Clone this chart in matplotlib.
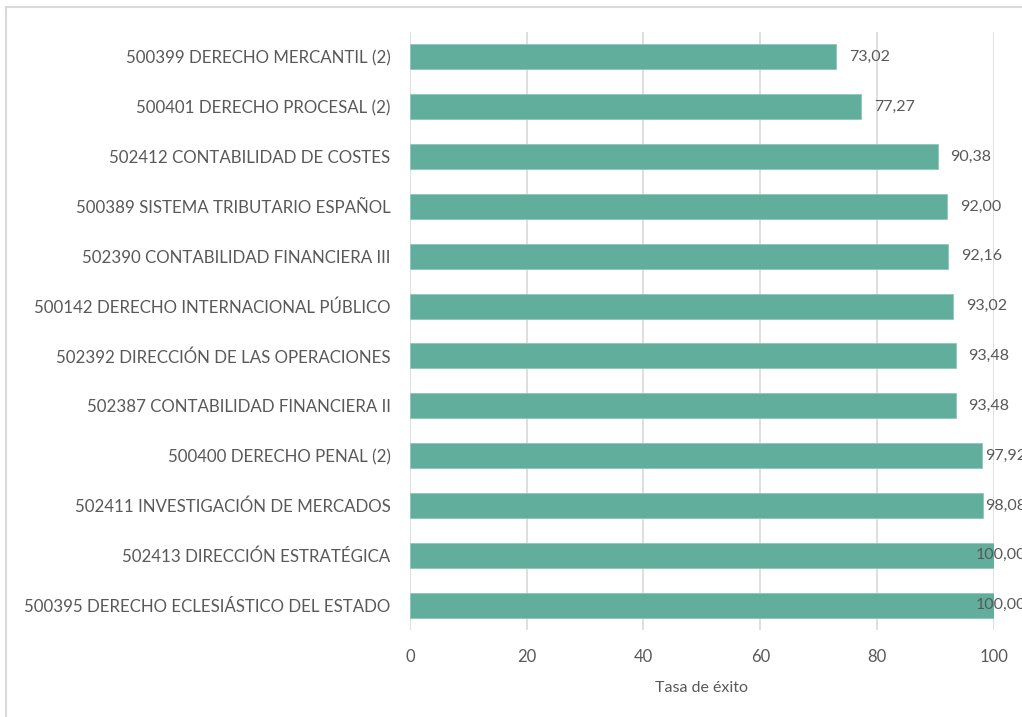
import matplotlib.pyplot as plt

# data, top to bottom as in the chart
asignaturas = [
    "500399 DERECHO MERCANTIL (2)",
    "500401 DERECHO PROCESAL (2)",
    "502412 CONTABILIDAD DE COSTES",
    "500389 SISTEMA TRIBUTARIO ESPAÑOL",
    "502390 CONTABILIDAD FINANCIERA III",
    "500142 DERECHO INTERNACIONAL PÚBLICO",
    "502392 DIRECCIÓN DE LAS OPERACIONES",
    "502387 CONTABILIDAD FINANCIERA II",
    "500400 DERECHO PENAL (2)",
    "502411 INVESTIGACIÓN DE MERCADOS",
    "502413 DIRECCIÓN ESTRATÉGICA",
    "500395 DERECHO ECLESIÁSTICO DEL ESTADO",
]
tasa_exito = [73.02, 77.27, 90.38, 92.00, 92.16, 93.02, 93.48, 93.48, 97.92, 98.08, 100.00, 100.00]
x_ticks = [0, 20, 40, 60, 80, 100]

BAR = "#62ae9c"
TEXT = "#595959"
GRID = "#d9d9d9"

plt.rcParams["font.family"] = ["Lato", "DejaVu Sans"]

fig = plt.figure(figsize=(10.22, 7.17), dpi=100)
ax = fig.add_axes([0.401, 0.1213, 0.5716, 0.8341])

pos = list(range(len(asignaturas)))
ax.barh(pos, tasa_exito, height=0.5, color=BAR, edgecolor="#8cc8b9", linewidth=0.6, zorder=3)

labels = []
for y, v in zip(pos, tasa_exito):
    t = ax.annotate(f"{v:.2f}".replace(".", ","), (v, y), xytext=(9, 0),
                    textcoords="offset points", va="center", ha="left",
                    fontsize=11.5, color=TEXT, zorder=4, annotation_clip=False)
    labels.append(t)

ax.set_xlim(0, 100)
ax.set_ylim(len(asignaturas) - 0.5, -0.5)
ax.set_xticks(x_ticks)
ax.set_yticks(pos)
ax.set_yticklabels(asignaturas)
ax.tick_params(axis="y", length=0, pad=14, labelsize=12.2, labelcolor=TEXT)
ax.tick_params(axis="x", length=0, pad=14, labelsize=12, labelcolor=TEXT)
ax.grid(axis="x", color=GRID, linewidth=1.2, zorder=0)
for s in ax.spines.values():
    s.set_visible(False)
ax.set_xlabel("Tasa de éxito", fontsize=11.5, color=TEXT, labelpad=11)

# the chart's own frame, cropped on the right and bottom
fig.add_artist(plt.Line2D([0.006, 0.006], [0, 0.99], color=GRID, linewidth=1.5))
fig.add_artist(plt.Line2D([0.006, 1], [0.99, 0.99], color=GRID, linewidth=1.5))

# Excel pushes labels back when they run past the chart's right edge (~1026 px)
fig.canvas.draw()
r = fig.canvas.get_renderer()
for t in labels:
    bb = t.get_window_extent(r)
    over = bb.x1 - 1026
    if over > 0:
        t.set_position((9 - over * 72 / fig.dpi, 0))

fig.savefig("out.png", dpi=100)
